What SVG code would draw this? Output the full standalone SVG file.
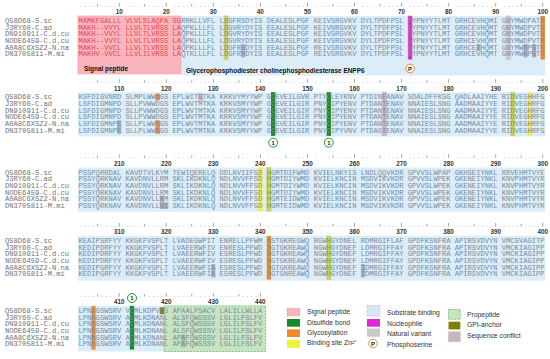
<svg xmlns="http://www.w3.org/2000/svg" width="550" height="359" viewBox="0 0 550 359">
<defs>
<style>
.seq{font-family:"Liberation Mono","Courier New",monospace;font-size:7.13px;fill:#7b8c9e}
.nm{font-family:"Liberation Mono","Courier New",monospace;font-size:7.13px;fill:#727272}
.sp{fill:#e8454f}
.num{font-family:"Liberation Sans",Arial,sans-serif;font-weight:bold;font-size:6.3px;fill:#333;text-anchor:middle}
.lbl{font-family:"Liberation Sans",Arial,sans-serif;font-weight:bold;font-size:6.45px;fill:#111}
.leg{font-family:"Liberation Sans",Arial,sans-serif;font-size:6.8px;fill:#333}
.bg{fill:#daedf8}
.spbg{fill:#f8b5bd;stroke:#f39aa6;stroke-width:0.7;stroke-dasharray:1.5 1}
.var{fill:#aab2bd}
.gly{fill:#f5892a}
.ss{fill:#168a28}
.zn{fill:#f2f23a}
.lime{fill:#c2dc3a;stroke:#f2a0b0;stroke-width:0.7;stroke-dasharray:1.5 1}
.nuc{fill:#e028d8;stroke:#f2a0b0;stroke-width:0.7;stroke-dasharray:1.5 1}
.sub{fill:#b3d4ec;stroke:#f2a0b0;stroke-width:0.7;stroke-dasharray:1.5 1}
.subg{fill:#adbccb;stroke:#f2a0b0;stroke-width:0.7;stroke-dasharray:1.5 1}
.conf{fill:#bdbdbd;stroke:#f2a0b0;stroke-width:0.7;stroke-dasharray:1.5 1}
.gpi{fill:#808000}
.pro{fill:#c6e4c0;stroke:#6fb46f;stroke-width:0.8;stroke-dasharray:2 1.2}
.ssc{fill:#fff;stroke:#1f9a35;stroke-width:1}
.phc{fill:#fff;stroke:#f08a2a;stroke-width:1}
.ct{font-family:"Liberation Sans",Arial,sans-serif;font-weight:bold;font-size:6px;fill:#222;text-anchor:middle}
</style>
<pattern id="rul" x="78.5" y="0" width="47.0635" height="5" patternUnits="userSpaceOnUse">
<g fill="#666">
<circle cx="2.139" cy="4.2" r="0.42"/><circle cx="6.418" cy="4.2" r="0.42"/><circle cx="10.696" cy="4.2" r="0.42"/><circle cx="14.975" cy="4.2" r="0.42"/>
<circle cx="23.532" cy="4.2" r="0.42"/><circle cx="27.810" cy="4.2" r="0.42"/><circle cx="32.089" cy="4.2" r="0.42"/><circle cx="36.367" cy="4.2" r="0.42"/>
<rect x="18.953" y="1.9" width="0.6" height="2.7"/>
<rect x="40.346" y="0.9" width="0.6" height="3.7"/>
</g>
</pattern>
</defs>
<rect width="550" height="359" fill="#fff"/>

<g id="block1">
<rect class="bg" x="181.2" y="15.9" width="364" height="59.6"/>
<rect class="spbg" x="77.8" y="15.9" width="103.4" height="58.1"/>
<rect class="lime" x="223.97" y="15.9" width="4.28" height="43.65"/>
<rect class="var" x="241.08" y="44.03" width="4.28" height="13.4"/>
<rect class="nuc" x="407.94" y="15.9" width="4.28" height="43.65"/>
<rect class="var" x="476.4" y="44.03" width="4.28" height="6.7"/>
<rect class="sub" x="506.35" y="15.9" width="4.28" height="43.65"/>
<rect class="var" x="523.46" y="44.03" width="4.28" height="13.4"/>
<rect class="var" x="532.02" y="44.03" width="4.28" height="13.4"/>
<rect class="gly" x="540.58" y="15.9" width="4.28" height="43.65"/>
<g transform="translate(0,2)"><rect x="78.5" y="0" width="466.4" height="5" fill="url(#rul)"/></g>
<text class="num" x="119.15" y="14.2">10</text><text class="num" x="166.21" y="14.2">20</text><text class="num" x="213.27" y="14.2">30</text><text class="num" x="260.34" y="14.2">40</text><text class="num" x="307.4" y="14.2">50</text><text class="num" x="354.46" y="14.2">60</text><text class="num" x="401.52" y="14.2">70</text><text class="num" x="448.59" y="14.2">80</text><text class="num" x="495.65" y="14.2">90</text><text class="num" x="542.71" y="14.2">100</text>
<text class="nm" x="5" y="22.9">Q58D68-S.sc</text>
<text class="nm" x="5" y="29.57">J3RY60-C.ad</text>
<text class="nm" x="5" y="36.24">DN910911-C.d.cu</text>
<text class="nm" x="5" y="42.91">NODE6459-C.d.cu</text>
<text class="nm" x="5" y="49.58">A0A8C6XSZ2-N.na</text>
<text class="nm" x="5" y="56.25">DN370581i-M.mi</text>
<text class="seq" x="78.5" y="22.9"><tspan class="sp">MAMKFGALLL VLVLSLAQPA SG</tspan>RRKLLVFL LDGFRSDYIS DEALESLPGF KEIVSRGVKV DYLTPDFPSL SYPNYYTLMT GRHCEVHQMI GNYMWDPATN</text>
<text class="seq" x="78.5" y="29.57"><tspan class="sp">MAKH--VVYL LLVLTLVRSS LA</tspan>QPKLLLFL LDGVRYDYIS EEALESLPGF KEIVNRGVKV DYLTPDFPSL SYPNYYTLMT GRHCEVHQMT GNYMWDPVTN</text>
<text class="seq" x="78.5" y="36.24"><tspan class="sp">MAKH--VVYL LLVLTLVRSS LA</tspan>QPKLLLFL LDGVRYDYIS EEALESLPGF KEIVSRGVKV DYLTPDFPSL SYPNYYTLMT GRHCEVHQMT GNYMWDPVTN</text>
<text class="seq" x="78.5" y="42.91"><tspan class="sp">MAKH--VVYL LLVLTLVRSS LA</tspan>QPKLLLFL LDGVRYDYIS EEALESLPGF KEIVSRGVKV DYLIPDFPSL SYPNYYTLMT GRHCEVHQMT GNYMWDPVTN</text>
<text class="seq" x="78.5" y="49.58"><tspan class="sp">MAKH--VVCL LLVLTLVRSS LA</tspan>QPKLLLFL LDGFRHDYIS EEALESLPGF REIVSRGVKV DYLTPDFPSL SYPNYYTLMT GRHCEIHQMT GNYMWNPGTN</text>
<text class="seq" x="78.5" y="56.25"><tspan class="sp">MAKHV-VVCL LLVLILVRSS LA</tspan>QTKLLLFL LDGFRHDYIS EEALESLPGF REIVSRGVKV DYLTPDFPSL SYPNYYTLMT GRHCEVHQMT GNYMWNPGTN</text>
<text class="lbl" x="84" y="71">Signal peptide</text>
<text class="lbl" x="186" y="72.5">Glycerophosphodiester cholinephosphodiesterase ENPP6</text>
<g id="phospho71"><circle class="phc" cx="410.1" cy="68.5" r="4.3"/><text class="ct" x="410.1" y="70.6">P</text></g>
</g>

<g id="block2">
<rect class="bg" x="77.8" y="92.2" width="467.4" height="44.3"/>
<rect class="var" x="117.01" y="120.33" width="4.28" height="13.4"/>
<rect class="gly" x="155.51" y="93.65" width="4.28" height="6.7"/>
<rect class="gly" x="155.51" y="120.33" width="4.28" height="13.4"/>
<rect class="conf" x="198.3" y="93.65" width="4.28" height="6.7"/>
<rect class="ss" x="271.03" y="92.2" width="4.28" height="43.65"/>
<rect class="ss" x="326.65" y="92.2" width="4.28" height="43.65"/>
<rect class="subg" x="382.27" y="92.2" width="4.28" height="43.65"/>
<rect class="lime" x="510.63" y="92.2" width="4.28" height="43.65"/>
<rect class="zn" x="527.74" y="92.2" width="4.28" height="43.65"/>
<g transform="translate(0,78.3)"><rect x="78.5" y="0" width="466.4" height="5" fill="url(#rul)"/></g>
<text class="num" x="119.15" y="90.5">110</text><text class="num" x="166.21" y="90.5">120</text><text class="num" x="213.27" y="90.5">130</text><text class="num" x="260.34" y="90.5">140</text><text class="num" x="307.4" y="90.5">150</text><text class="num" x="354.46" y="90.5">160</text><text class="num" x="401.52" y="90.5">170</text><text class="num" x="448.59" y="90.5">180</text><text class="num" x="495.65" y="90.5">190</text><text class="num" x="542.71" y="90.5">200</text>
<text class="nm" x="5" y="99.2">Q58D68-S.sc</text>
<text class="nm" x="5" y="105.87">J3RY60-C.ad</text>
<text class="nm" x="5" y="112.54">DN910911-C.d.cu</text>
<text class="nm" x="5" y="119.21">NODE6459-C.d.cu</text>
<text class="nm" x="5" y="125.88">A0A8C6XSZ2-N.na</text>
<text class="nm" x="5" y="132.55">DN370581i-M.mi</text>
<text class="seq" x="78.5" y="99.2">KSFDIGVNRD SLMPLWWNGS EPLWITGTKA KRKVYMYYWP GCEVEILGVR PTYCLEYKNV PTDINFANAV SDALDFFKSG QADLAAIYHE RIDVEGHHFG</text>
<text class="seq" x="78.5" y="105.87">LSFDIGMNPD SLLPVWWDGS EPLWVTMTKA KRKVSMYYWP GCEVEILGIR PNYCIPYENV PTDANTENAV NNAIESLSNG AADMAAIYYE RIDVEGHRFG</text>
<text class="seq" x="78.5" y="112.54">LSFDIGMNPD SLLPVWWDGS EPLWVTMTKA KRKVSMYYWP GCEVEILGIR PNYCIPYENV PTDANTENAV NNAIESLSNG AADMAAIYYE RIDVEGHRFG</text>
<text class="seq" x="78.5" y="119.21">LSFDIGMNPD SLLPVWWDGS EPLWVTMTKA KRKVSMYYWP GCEVEILGIR PNYCIPYENV PTDANTENAV NNAIESLSNG AADMAAIYYE RIDVEGHRFG</text>
<text class="seq" x="78.5" y="125.88">LSFDIGMNPE SLLPLWWNGS EPLWVTMTKA KRKVSMYYWP GCEVEILGIR PNYCIPYENV PTDANTENAV NNAIESLSNG AADMAAIYYE RIDVEGHRFG</text>
<text class="seq" x="78.5" y="132.55">LSFDIGMNPE SLLPLWWNGS EPLWVTMTKA KRKVSMYYWP GCEVEILGIR PNYCIPYVNV PTDAGTENAV NNAIESLSNG AADMAAIYYE RIDVEGHRFG</text>
<g id="ss142"><circle class="ssc" cx="273.2" cy="142.7" r="4.5"/><text class="ct" x="273.2" y="144.8">1</text></g>
<g id="ss154"><circle class="ssc" cx="328.8" cy="142.7" r="4.5"/><text class="ct" x="328.8" y="144.8">1</text></g>
</g>

<g id="block3">
<rect class="bg" x="77.8" y="167.5" width="467.4" height="44.3"/>
<rect class="var" x="159.79" y="195.63" width="4.28" height="6.7"/>
<rect class="var" x="159.79" y="202.3" width="8.56" height="6.7"/>
<rect class="zn" x="258.2" y="167.5" width="4.28" height="43.65"/>
<rect class="lime" x="266.75" y="167.5" width="4.28" height="43.65"/>
<g transform="translate(0,153.6)"><rect x="78.5" y="0" width="466.4" height="5" fill="url(#rul)"/></g>
<text class="num" x="119.15" y="165.8">210</text><text class="num" x="166.21" y="165.8">220</text><text class="num" x="213.27" y="165.8">230</text><text class="num" x="260.34" y="165.8">240</text><text class="num" x="307.4" y="165.8">250</text><text class="num" x="354.46" y="165.8">260</text><text class="num" x="401.52" y="165.8">270</text><text class="num" x="448.59" y="165.8">280</text><text class="num" x="495.65" y="165.8">290</text><text class="num" x="542.71" y="165.8">300</text>
<text class="nm" x="5" y="174.5">Q58D68-S.sc</text>
<text class="nm" x="5" y="181.17">J3RY60-C.ad</text>
<text class="nm" x="5" y="187.84">DN910911-C.d.cu</text>
<text class="nm" x="5" y="194.51">NODE6459-C.d.cu</text>
<text class="nm" x="5" y="201.18">A0A8C6XSZ2-N.na</text>
<text class="nm" x="5" y="207.85">DN370581i-M.mi</text>
<text class="seq" x="78.5" y="174.5">PSSPQRRDAL KAVDTVLKYM TEWIQERELQ DDLNVIIFSD HGMTDIFWMD KVIELNKYIS LNDLQQVKDR GPVVSLWPAP GKHSEIYNKL RRVEHMTVYE</text>
<text class="seq" x="78.5" y="181.17">PSSYQRKNAV KAVDNVLLRM SKLIKDKNLQ NDLNVVFFSD HGMTDIYWMD KVIELKNCIN MSDVIKVKDR GPVVSLWPEK GKENEIYNKL KNVPHMTVYR</text>
<text class="seq" x="78.5" y="187.84">PSSYQRKNAV KAVDNVLLRM SKLIKDKNLQ NDLNVVFFSD HGMTDIYWMD KVIELKNCIN MSDVIKVKDR GPVVSLWPEK GKENEIYNKL KNVPHMTVYR</text>
<text class="seq" x="78.5" y="194.51">PSSYQRKNAV KAVDNVLLRM SKLIKDKNLQ NDLNVVFFSD HGMTDIYWMD KVIELKNCIN MSDVIKVKDR GPVVSLWPEK GKENEIYNKL KNVPHMTVYR</text>
<text class="seq" x="78.5" y="201.18">PSSYQRKNAV KAVDNVLLKM SKLIKDKNLQ NDLNVVFFSD HGMTEIDWMD KVIELKNCIN MSDVIKVKDR GPVVSLWPEK GKENEIYNKL KNVPHMTVYR</text>
<text class="seq" x="78.5" y="207.85">PSSYQRKNAV KAVDNVLLNI SKLIKDKNLQ NDLNVVFFSD HGMTEIDWMD KVIELKNCIN MSDVIKVKDR GPVVSLWPEK GKENEIYNKL KNVPHMTVYR</text>
</g>

<g id="block4">
<rect class="bg" x="77.8" y="235.9" width="467.4" height="44.8"/>
<rect class="var" x="211.13" y="264.03" width="4.28" height="13.4"/>
<rect class="gly" x="266.75" y="235.9" width="4.28" height="43.65"/>
<rect class="lime" x="326.65" y="235.9" width="4.28" height="43.65"/>
<rect class="var" x="360.88" y="264.03" width="4.28" height="13.4"/>
<g transform="translate(0,222)"><rect x="78.5" y="0" width="466.4" height="5" fill="url(#rul)"/></g>
<text class="num" x="119.15" y="234.2">310</text><text class="num" x="166.21" y="234.2">320</text><text class="num" x="213.27" y="234.2">330</text><text class="num" x="260.34" y="234.2">340</text><text class="num" x="307.4" y="234.2">350</text><text class="num" x="354.46" y="234.2">360</text><text class="num" x="401.52" y="234.2">370</text><text class="num" x="448.59" y="234.2">380</text><text class="num" x="495.65" y="234.2">390</text><text class="num" x="542.71" y="234.2">400</text>
<text class="nm" x="5" y="242.9">Q58D68-S.sc</text>
<text class="nm" x="5" y="249.57">J3RY60-C.ad</text>
<text class="nm" x="5" y="256.24">DN910911-C.d.cu</text>
<text class="nm" x="5" y="262.91">NODE6459-C.d.cu</text>
<text class="nm" x="5" y="269.58">A0A8C6XSZ2-N.na</text>
<text class="nm" x="5" y="276.25">DN370581i-M.mi</text>
<text class="seq" x="78.5" y="242.9">KEAIPSRFYY KKGKFVSPLT LVADEGWPIT ENRELLPFWM NSTGKREGWQ RGWHGYDNEL RDMRGIFLAF GPDFKSNFRA APIRSVDVYN VMCSVAGITP</text>
<text class="seq" x="78.5" y="249.57">KEDIPDRFYY KKGKFVSPLT LVAEERWFIV ENRESLPFWD NGTGKREAWQ NGWHGYDNEF LDMRGIFFAY GPDFKSNFRA APIRSVDVYN VMCKIAGIPP</text>
<text class="seq" x="78.5" y="256.24">KEDIPDRFYY KKGKFVSPLT LVAEERWFIV ESRESLPFWD NGTGKREAWQ NGWHGYDNEF LDMRGIFFAY GPDFKSNFRA APIRSVDVYN VMCKIAGIPP</text>
<text class="seq" x="78.5" y="262.91">KEDIPDRFYY KKGKFVSPLT LVAEERWFIV ESRESLPFWD NGTGKREAWQ NGWHGYDNEF LDMRGIFFAY GPDFKSNFRA APIRSVDVYN VMCKIAGIPP</text>
<text class="seq" x="78.5" y="269.58">KEDIPGRFYY KKGKFVSPLT LVAEERWFIA ESRESLPFWD NGTGKREAWQ NGWHGYDNEF IDMRGIFFAY GPDFKSNFRA APIRSVDVYN VMCKIAGIPP</text>
<text class="seq" x="78.5" y="276.25">KEDIPGRFYY KKGKFVSPLT LVAEERWFIA ESRESLPFWD NGTGNREAWQ NGWHGYDNEF IDMRGIFFAY GPDFKSNFRA APIRSVDVYN VMCKIAGIPP</text>
</g>

<g id="block5">
<rect class="bg" x="77.8" y="305.9" width="86.27" height="45.6"/>
<rect class="pro" x="164.07" y="305.9" width="101.5" height="45.6"/>
<rect class="gly" x="91.34" y="305.9" width="4.28" height="43.65"/>
<rect class="ss" x="129.84" y="305.9" width="4.28" height="43.65"/>
<rect class="gpi" x="159.79" y="307.35" width="4.28" height="6.7"/>
<rect x="181.18" y="334.03" width="4.28" height="13.4" fill="#9fc59a"/>
<g transform="translate(0,292)"><rect x="78.5" y="0" width="184" height="5" fill="url(#rul)"/></g>
<text class="num" x="119.15" y="304.2">410</text><text class="num" x="166.21" y="304.2">420</text><text class="num" x="213.27" y="304.2">430</text><text class="num" x="260.34" y="304.2">440</text>
<g id="ss412"><circle class="ssc" cx="132" cy="298" r="4.5"/><text class="ct" x="132" y="300.1">1</text></g>
<text class="nm" x="5" y="312.9">Q58D68-S.sc</text>
<text class="nm" x="5" y="319.57">J3RY60-C.ad</text>
<text class="nm" x="5" y="326.24">DN910911-C.d.cu</text>
<text class="nm" x="5" y="332.91">NODE6459-C.d.cu</text>
<text class="nm" x="5" y="339.58">A0A8C6XSZ2-N.na</text>
<text class="nm" x="5" y="346.25">DN370581i-M.mi</text>
<text class="seq" x="78.5" y="312.9">LPNNGSWSRV VCMLKDPVGS APAALPSACV LALILLWLLA</text>
<text class="seq" x="78.5" y="319.57">LPNNGSWSRV ACMLKDNANL ALSFQWSSSV LGLILFSLFV</text>
<text class="seq" x="78.5" y="326.24">LPNNGSWSRV ACMLKDNANL ALSFQWSSSV LGLILFSLFV</text>
<text class="seq" x="78.5" y="332.91">LPNNGSWSRV ACMLKDNANL ALSFQWSSSV LGLILFSLFV</text>
<text class="seq" x="78.5" y="339.58">LPNNGSWSRV ACMLKDNANL APAFQWSSSV LGLILFSLFV</text>
<text class="seq" x="78.5" y="346.25">LPNNGSWSRV ACMLKDNANL APAFQWSSSV LGLILFSLFV</text>
</g>

<g id="legend">
<rect class="spbg" x="287" y="308.3" width="13" height="7.7"/>
<text class="leg" x="307" y="314">Signal peptide</text>
<rect class="ss" x="287" y="319" width="13" height="7.7"/>
<text class="leg" x="307" y="324.6">Disulfide bond</text>
<rect class="gly" x="287" y="329.3" width="13" height="7.7"/>
<text class="leg" x="307" y="335">Glycosylation</text>
<rect class="zn" x="287" y="340" width="13" height="8"/>
<text class="leg" x="307" y="345.2">Binding site Zn²⁺</text>
<rect class="sub" x="367" y="305.5" width="13" height="10.5" style="fill:#d4e8f6"/>
<text class="leg" x="387" y="315">Substrate binding</text>
<rect class="nuc" x="367" y="319" width="13" height="7.7" style="stroke:none"/>
<text class="leg" x="387" y="325.6">Nucleophile</text>
<rect x="367" y="328.5" width="13" height="8.2" fill="#c8c8c8"/>
<text class="leg" x="387" y="335.6">Natural variant</text>
<circle class="phc" cx="373" cy="343.5" r="4.3"/><text class="ct" x="373" y="345.6">P</text>
<text class="leg" x="387" y="346.5">Phosphoserine</text>
<rect class="pro" x="448.5" y="309.5" width="11.8" height="9.8"/>
<text class="leg" x="467" y="316.6">Propeptide</text>
<rect class="gpi" x="448.5" y="321.7" width="11.8" height="7.7"/>
<text class="leg" x="467" y="327.3">GPI-anchor</text>
<rect class="conf" x="448.5" y="331.7" width="11.8" height="10"/>
<text class="leg" x="467" y="338">Sequence conflict</text>
</g>
</svg>
